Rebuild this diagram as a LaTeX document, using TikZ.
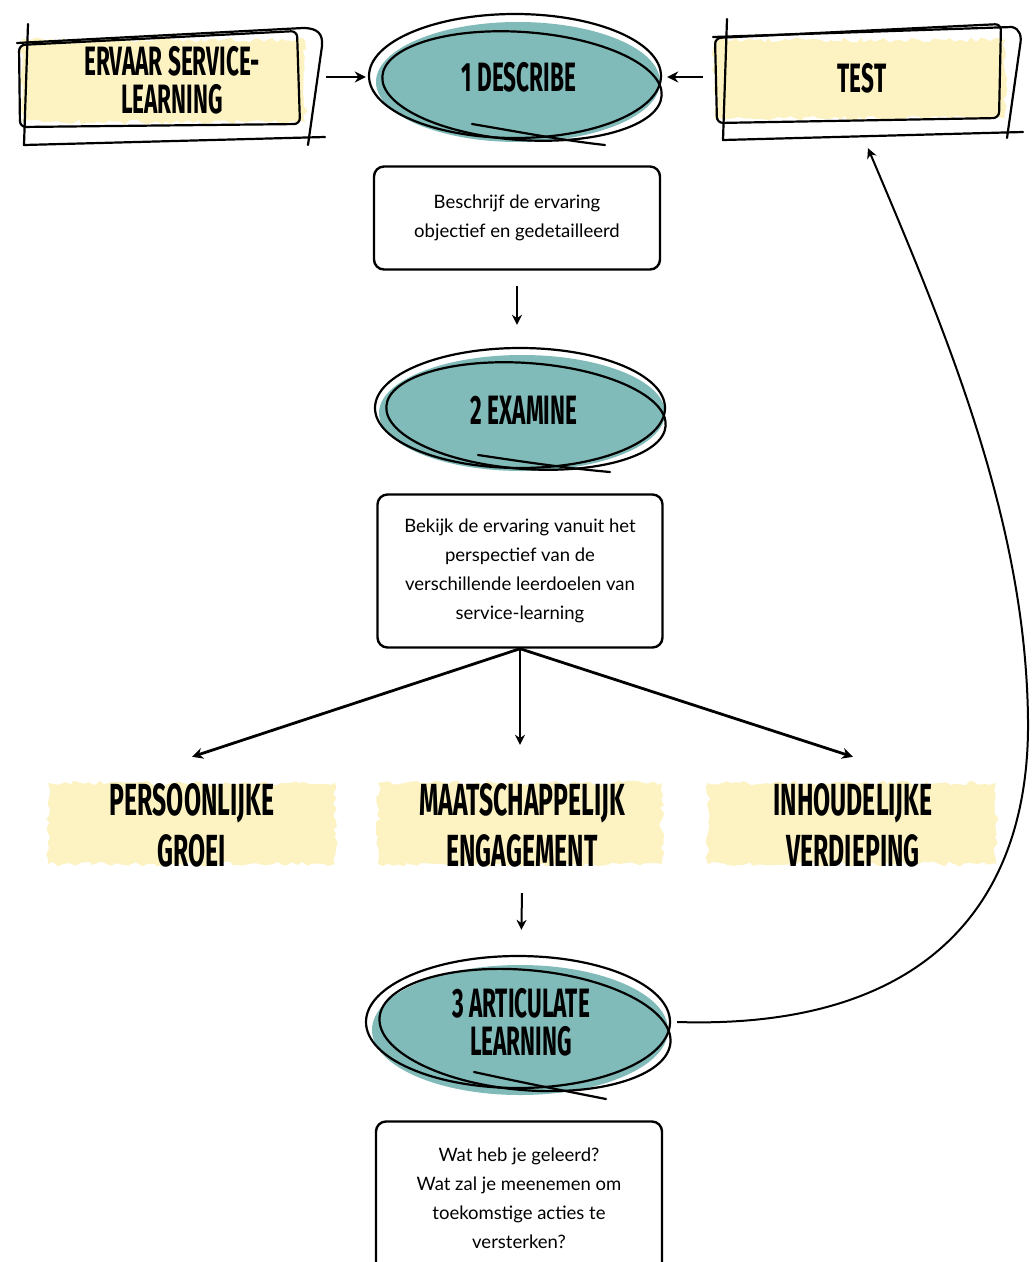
\documentclass[tikz,border=0pt]{standalone}
\usepackage{fontspec}
\setmainfont{Lato}
\newfontfamily\handfont[FakeStretch=0.55]{Fira Sans}
\usetikzlibrary{arrows.meta,shapes.geometric,decorations.pathmorphing}
\definecolor{tealfill}{HTML}{80BAB9}
\definecolor{yel}{HTML}{FDF3C2}
\begin{document}
\begin{tikzpicture}[x=1pt,y=-1pt,
  hand/.style={font=\handfont\bfseries\fontsize{41}{38}\selectfont, align=center, text=black, inner sep=0pt},
  bighand/.style={font=\handfont\bfseries\fontsize{45}{51}\selectfont, align=center, text=black, inner sep=0pt},
  sk/.style={draw=black, line width=2.2pt, line cap=round, line join=round},
  txtbox/.style={draw=black, line width=2.4pt, rounded corners=10pt, align=center, font=\fontsize{18.5}{29}\selectfont, inner sep=0pt},
  brush/.style={fill=yel, decorate, decoration={random steps, segment length=5pt, amplitude=2.5pt}},
  arr/.style={draw=black, line width=2.8pt, -{Stealth[length=11pt,width=11pt]}},
  arrthin/.style={draw=black, line width=2pt, -{Stealth[length=10pt,width=10pt]}}
]
\useasboundingbox (0,0) rectangle (1032,1262);
\fill[white] (0,0) rectangle (1032,1262);

% ---------- ERVAAR box ----------
\path[brush] (22,40) rectangle (305,122);
\draw[sk, rounded corners=6pt] (19,45) -- (297,31) -- (300,124) -- (20,127) -- cycle;
\draw[sk] (17,43) -- (303,28) .. controls (318,28) and (323,34) .. (322,46) -- (308,145);
\draw[sk] (28,24) -- (24,145) -- (325,137);
\node[hand, minimum width=308pt, minimum height=110pt] (ervaar) at (172,80) {ERVAAR SERVICE-\\LEARNING};

% ---------- TEST box ----------
\path[brush] (714,40) rectangle (1005,118);
\draw[sk, rounded corners=6pt] (715,38) -- (1001,24) -- (999,118) -- (717,123) -- cycle;
\draw[sk] (713,37) -- (1012,27) .. controls (1020,29) and (1022,36) .. (1020,46) -- (1007,138);
\draw[sk] (727,19) -- (723,140) -- (1023,132);
\node[hand, minimum width=316pt, minimum height=120pt] (test) at (862,78) {TEST};

% ---------- Ellipse 1 ----------
\fill[tealfill] (518,82) ellipse [x radius=142, y radius=60];
\draw[sk] (515,76) ellipse [x radius=146, y radius=62];
\draw[sk, rotate around={-4:(522,86)}] (522,86) ellipse [x radius=140, y radius=54];
\draw[sk] (472,124) .. controls (520,132) and (560,140) .. (605,145);
\node[hand, ellipse, minimum width=300pt, minimum height=128pt] (d1) at (519,77) {1 DESCRIBE};

% ---------- Box 1 ----------
\node[txtbox, minimum width=286pt, minimum height=103pt] (b1) at (517,218) {Beschrijf de ervaring\\objectief en gedetailleerd};

% ---------- Ellipse 2 ----------
\fill[tealfill] (522,413) ellipse [x radius=143, y radius=58];
\draw[sk] (520,408) ellipse [x radius=145, y radius=60];
\draw[sk, rotate around={-4:(526,416)}] (526,416) ellipse [x radius=140, y radius=53];
\draw[sk] (478,455) .. controls (525,462) and (565,468) .. (610,472);
\node[hand, ellipse, minimum width=300pt, minimum height=124pt] (e2) at (524,410) {2 EXAMINE};

% ---------- Box 2 ----------
\node[txtbox, minimum width=285pt, minimum height=153pt] (b2) at (520,571) {Bekijk de ervaring vanuit het\\perspectief van de\\verschillende leerdoelen van\\service-learning};

% ---------- three labels ----------
\path[brush] (48,783) rectangle (335,864);
\path[brush] (378,783) rectangle (662,864);
\path[brush] (708,783) rectangle (996,864);
\node[bighand, minimum width=290pt, minimum height=136pt] (l1) at (192,825) {PERSOONLIJKE\\GROEI};
\node[bighand, minimum width=290pt, minimum height=136pt] (l2) at (522,825) {MAATSCHAPPELIJK\\ENGAGEMENT};
\node[bighand, minimum width=290pt, minimum height=136pt] (l3) at (853,825) {INHOUDELIJKE\\VERDIEPING};

% ---------- Ellipse 3 ----------
\fill[tealfill] (520,1030) ellipse [x radius=148, y radius=65];
\draw[sk] (518,1022) ellipse [x radius=152, y radius=66];
\draw[sk, rotate around={-5:(525,1030)}] (525,1030) ellipse [x radius=146, y radius=60];
\draw[sk] (474,1072) .. controls (520,1082) and (560,1090) .. (606,1099);
\node[hand, ellipse, minimum width=312pt, minimum height=140pt] (a3) at (521,1022) {3 ARTICULATE\\LEARNING};

% ---------- Box 3 ----------
\node[txtbox, minimum width=286pt, minimum height=153pt] (b3) at (519,1198) {Wat heb je geleerd?\\Wat zal je meenemen om\\toekomstige acties te\\versterken?};

% ---------- connectors ----------
\draw[arr, shorten >=3pt] (ervaar.east |- d1.west) -- (d1.west);
\draw[arr, shorten <=1pt, shorten >=-2pt] (test.west |- d1.east) -- (d1.east);
\draw[arrthin, shorten <=15pt, shorten >=23pt] (b1.south) -- (b1.south |- e2.north);
\draw[arr] (b2.south) -- (l1.north);
\draw[arrthin, shorten >=12pt] (b2.south) -- (b2.south |- l2.north);
\draw[arr] (b2.south) -- (l3.north);
\draw[arrthin, shorten >=22pt] (l2.south) -- (a3.north);
\draw[arrthin] (a3.east) .. controls (930,1030) and (1030,900) .. (1028,720)
  .. controls (1026,520) and (945,330) .. ([xshift=6pt,yshift=-10pt]test.south);
\end{tikzpicture}
\end{document}
